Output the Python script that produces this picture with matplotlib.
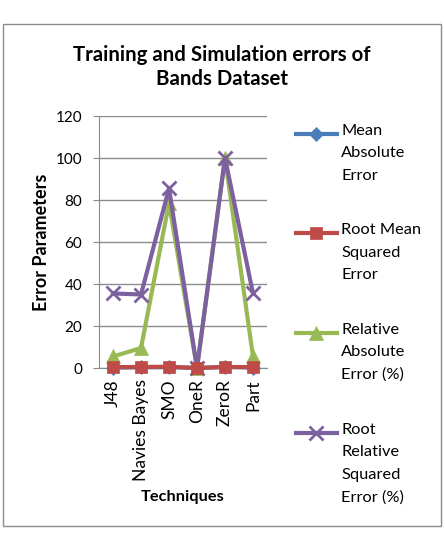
import matplotlib
matplotlib.use("Agg")
import matplotlib.pyplot as plt
import numpy as np
from matplotlib.patches import Rectangle

plt.rcParams['font.family'] = ['Lato', 'DejaVu Sans']

techniques = ["J48", "Navies Bayes", "SMO", "OneR", "ZeroR", "Part"]
mae = [0.2, 0.3, 0.4, 0.0, 0.5, 0.2]
rmse = [0.4, 0.5, 0.6, 0.0, 0.5, 0.4]
rae = [5.5, 9.5, 78.5, 0.0, 100.0, 5.5]
rrse = [35.5, 35.0, 85.5, 0.0, 100.0, 35.5]
series_labels = ["Mean\nAbsolute\nError", "Root Mean\nSquared\nError",
                 "Relative\nAbsolute\nError (%)", "Root\nRelative\nSquared\nError (%)"]
yticks = [0, 20, 40, 60, 80, 100, 120]

W, H = 445, 535
DPI = 100
fig = plt.figure(figsize=(W / DPI, H / DPI), dpi=DPI)
fig.patch.set_facecolor('white')
fig.add_artist(Rectangle((3 / W, 1 - 526 / H), 438 / W, 502 / H, transform=fig.transFigure,
                         fill=False, edgecolor='#8c8c8c', linewidth=1.0))

ax = fig.add_axes([99 / W, 1 - 368 / H, 168 / W, 252 / H])
x = np.arange(len(techniques))
colors = ['#4A7EBB', '#BE4B48', '#98B954', '#7D60A0']
markers = ['D', 's', '^', 'x']
msizes = [7, 9, 10, 10]
data = [mae, rmse, rae, rrse]
handles = []
for vals, c, m, ms, lab in zip(data, colors, markers, msizes, series_labels):
    h, = ax.plot(x, vals, color=c, marker=m, markersize=ms, linewidth=3.0,
                 markeredgewidth=2.0 if m == 'x' else 0.5, markeredgecolor=c,
                 label=lab, clip_on=False, zorder=3)
    handles.append(h)
handles[1].set_zorder(5)

ax.set_xlim(-0.5, len(techniques) - 0.5)
ax.set_ylim(0, 120)
ax.set_yticks(yticks)
ax.set_xticks(x)
ax.set_xticklabels(techniques, rotation=90, fontsize=12.5)
ax.tick_params(axis='y', labelsize=11, length=4, color='#8c8c8c', pad=8)
ax.tick_params(axis='x', length=0, pad=8)
ax.yaxis.grid(True, color='#8c8c8c', linewidth=1.0)
ax.set_axisbelow(True)
for s in ['top', 'right']:
    ax.spines[s].set_visible(False)
ax.spines['left'].set_color('#8c8c8c')
ax.spines['bottom'].set_color('#8c8c8c')

ax.set_ylabel("Error Parameters", fontsize=13, fontweight='bold', labelpad=4)
ax.set_xlabel("Techniques", fontsize=11.8, fontweight='bold', labelpad=6.5)

fig.text(222 / W, 1 - 67 / H, "Training and Simulation errors of\nBands Dataset",
         ha='center', va='center', fontsize=14.7, fontweight='bold', linespacing=1.3)

leg = fig.legend(handles=handles, labels=series_labels, loc='upper left',
                 bbox_to_anchor=(296 / W, 1 - 124 / H), frameon=False, borderpad=0,
                 borderaxespad=0, fontsize=11.8, handlelength=2.5, handletextpad=0.25,
                 labelspacing=2.5)
for t in leg.get_texts():
    t.set_linespacing(1.75)

# align each legend handle with the first line of its label
fig.canvas.draw()
for t, lh in zip(leg.get_texts(), leg.legend_handles):
    bb = t.get_window_extent()
    n = t.get_text().count("\n") + 1
    line_h = bb.height / n
    target = bb.y1 - line_h * 0.5
    yd = np.asarray(lh.get_ydata(), dtype=float)
    cur = lh.get_transform().transform((0, yd[0]))[1]
    lh.set_ydata(yd + (target - cur) * 72 / DPI)

fig.savefig("out.png", dpi=DPI)
